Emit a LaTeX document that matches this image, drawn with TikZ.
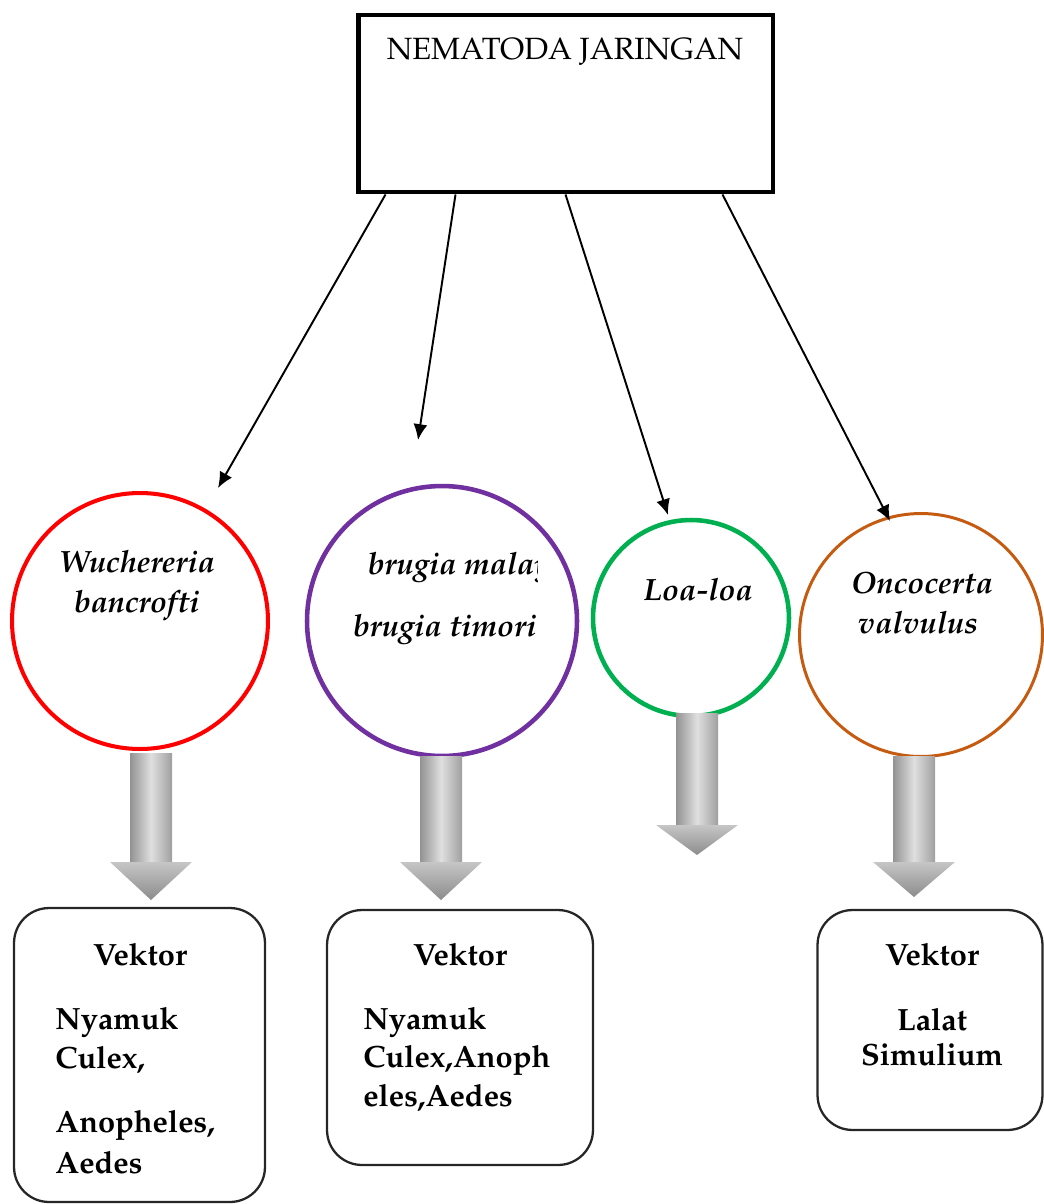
\documentclass[tikz,border=0pt]{standalone}
\usepackage[T1]{fontenc}
\usepackage{mathpazo}
\usetikzlibrary{
    arrows.meta,
    positioning
}

\tikzset{
    thinarrow/.style={draw=black, line width=1.1pt, -{Latex[length=9pt,width=8pt]}},
    species/.style={circle, line width=2.3pt, inner sep=0pt},
    spname/.style={font=\fontsize{17.5}{20}\selectfont\bfseries\itshape},
    vbox/.style={draw=black!85, line width=1.3pt, rounded corners=0.7cm, inner sep=0pt},
    vtext/.style={font=\fontsize{17.5}{20}\selectfont\bfseries, inner sep=0pt}
}
\definecolor{cred}{RGB}{255,0,0}
\definecolor{cpurple}{RGB}{112,48,160}
\definecolor{cgreen}{RGB}{0,176,80}
\definecolor{corange}{RGB}{197,90,17}

% gray block arrow: centre x, top y, neck y, tip y
\newcommand{\grayarrow}[4]{%
    \shade[left color=gray!85, right color=gray!75, middle color=gray!25]
        (#1-21,#2) rectangle (#1+21,#3);
    \shade[top color=gray!45, bottom color=gray!90]
        (#1-41,#3) -- (#1+41,#3) -- (#1,#4) -- cycle;
}

\begin{document}
\begin{tikzpicture}[x=0.02cm, y=-0.02cm]
    \useasboundingbox (0,0) rectangle (1044,1204);

    % top box
    \node[draw, line width=2.8pt, minimum width=8.3cm, minimum height=3.54cm] (top) at (565.5,103.5) {};
    \node[font=\fontsize{17.5}{20}\selectfont] (toplabel) at (565,52) {NEMATODA JARINGAN};

    % species
    \node[species, draw=cred, minimum size=5.12cm] (wb) at (140,621) {};
    \node[species, draw=cpurple, line width=2.6pt, minimum size=5.4cm] (bm) at (442,621) {};
    \node[species, draw=cgreen, line width=2.6pt, minimum size=3.92cm] (ll) at (691,618) {};
    \node[species, draw=corange, line width=1.7pt, minimum size=4.86cm] (ov) at (921,635) {};

    \node[spname] (wb1) at (137,562) {Wuchereria};
    \node[spname] (wb2) at (137,606) {bancrofti};
    \begin{scope}
        \clip (300,540) rectangle (537,600);
        \node[spname, anchor=west] (bm1) at (362,568) {brugia malay};
    \end{scope}
    \node[spname] (bm2) at (445,630) {brugia timori};
    \node[spname] (ll1) at (698,590) {Loa-loa};
    \node[spname] (ov1) at (922,583) {Oncocerta};
    \node[spname] (ov2) at (918,623) {valvulus};

    % arrows from top box
    \coordinate (t1) at (218,488);
    \coordinate (t2) at (418,440);
    \coordinate (t3) at (668,515);
    \coordinate (t4) at (890,521);
    \draw[thinarrow] ([xshift=-3.6cm]top.south) -- (t1);
    \draw[thinarrow] ([xshift=-2.2cm]top.south) -- (t2);
    \draw[thinarrow] (top.south) -- (t3);
    \draw[thinarrow] ([xshift=3.14cm]top.south) -- (t4);

    % block arrows
    \grayarrow{151}{753}{862}{900}
    \grayarrow{441}{756}{862}{900}
    \grayarrow{697}{713}{825}{855}
    \grayarrow{914}{756}{862}{897}

    % vector boxes
    \node[vbox, minimum width=5.02cm, minimum height=5.88cm] (v1) at (139.5,1055) {};
    \node[vbox, minimum width=5.32cm, minimum height=5.1cm] (v2) at (460,1037.5) {};
    \node[vbox, minimum width=4.5cm, minimum height=4.4cm] (v3) at (930,1020) {};

    \node[vtext] (v1h) at (140,955) {Vektor};
    \node[vtext, anchor=west] (v1a) at (55,1022) {Nyamuk};
    \node[vtext, anchor=west] (v1b) at (55,1060) {Culex,};
    \node[vtext, anchor=west] (v1c) at (55,1125) {Anopheles,};
    \node[vtext, anchor=west] (v1d) at (55,1163) {Aedes};

    \node[vtext] (v2h) at (460,955) {Vektor};
    \node[vtext, anchor=west] (v2a) at (363,1022) {Nyamuk};
    \node[vtext, anchor=west] (v2b) at (363,1060) {Culex,Anoph};
    \node[vtext, anchor=west] (v2c) at (363,1098) {eles,Aedes};

    \node[vtext] (v3h) at (932,955) {Vektor};
    \node[vtext] (v3a) at (932,1020) {Lalat};
    \node[vtext] (v3b) at (932,1055) {Simulium};
\end{tikzpicture}
\end{document}
